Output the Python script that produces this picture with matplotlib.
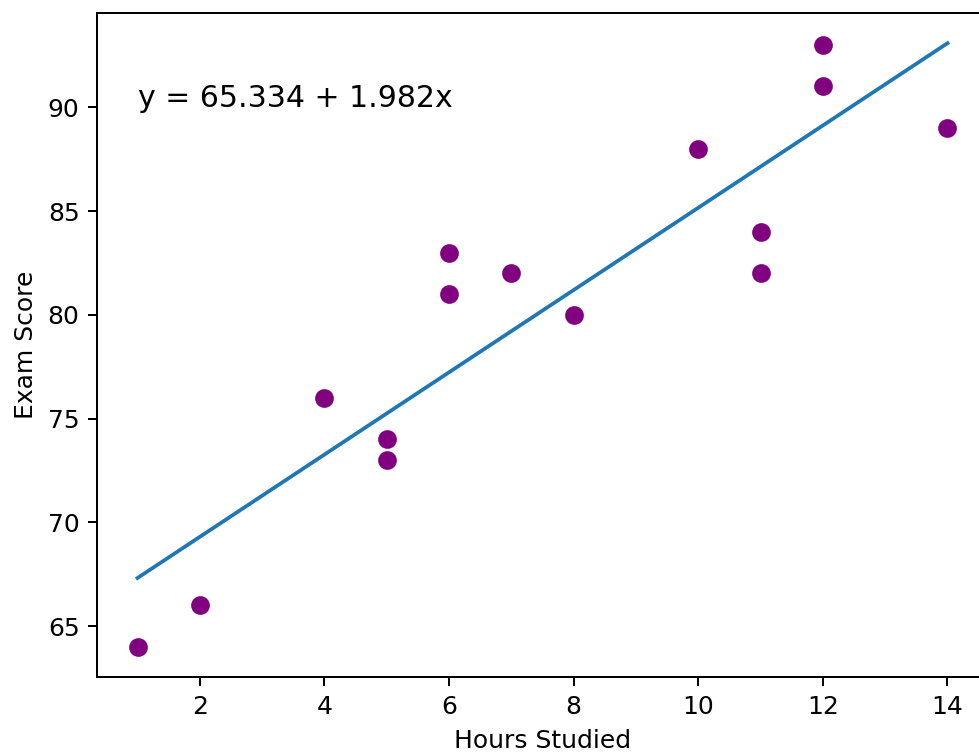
import matplotlib
matplotlib.use("Agg")
import matplotlib.pyplot as plt
import numpy as np

# hours studied vs exam score
hours = [1, 2, 4, 5, 5, 6, 6, 7, 8, 10, 11, 11, 12, 12, 14]
score = [64, 66, 76, 74, 73, 83, 81, 82, 80, 88, 84, 82, 93, 91, 89]

x = np.array(hours)
y = np.array(score)
b, a = np.polyfit(x, y, 1)

fig = plt.figure(figsize=(979 / 180, 753 / 180), dpi=180)
ax = fig.add_axes([97 / 979, 1 - 677 / 753, 891 / 979, 664 / 753])

ax.scatter(x, y, color='purple', s=42)
ax.plot(x, a + b * x)
ax.text(1, 90, 'y = ' + '{:.3f}'.format(a) + ' + {:.3f}'.format(b) + 'x', size=12)

ax.set_xlabel('Hours Studied')
ax.set_ylabel('Exam Score')

fig.savefig('out.png', dpi=180)
